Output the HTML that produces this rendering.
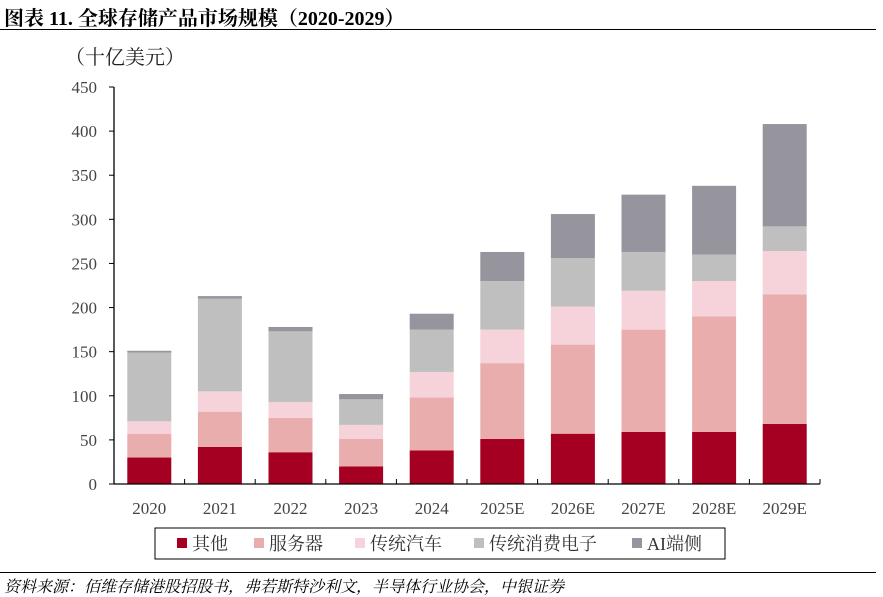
<!DOCTYPE html>
<html><head><meta charset="utf-8">
<style>
body{margin:0;background:#fff;width:883px;height:595px;overflow:hidden;position:relative;font-family:"Liberation Serif","Noto Serif CJK SC",serif;}
.title{position:absolute;left:4px;top:2px;font-size:20px;font-weight:bold;color:#000;font-family:"Liberation Serif","Noto Serif CJK SC",serif;white-space:nowrap;}
.rule{position:absolute;left:0;width:876px;height:1px;background:#000;}
.src{position:absolute;left:4px;top:574px;font-size:16px;font-style:italic;color:#000;font-family:"Liberation Serif","Noto Serif CJK SC",serif;white-space:nowrap;}
</style></head><body>
<div class="title">图表 11. 全球存储产品市场规模（2020-2029）</div>
<div class="rule" style="top:29px"></div>
<svg id="chart" width="883" height="595" style="position:absolute;left:0;top:0"></svg>
<div class="rule" style="top:572px"></div>
<div class="src">资料来源：佰维存储港股招股书，弗若斯特沙利文，半导体行业协会，中银证券</div>
<script>
const categories=["2020","2021","2022","2023","2024","2025E","2026E","2027E","2028E","2029E"];
const seriesNames=["其他","服务器","传统汽车","传统消费电子","AI端侧"];
const other=[30,42,36,20,38,51,57,59,59,68];
const server=[27,40,39,31,60,86,101,116,131,147];
const auto=[14,23,18,16,29,38,43,44,40,49];
const consumer=[78,105,80,29,48,55,55,44,30,28];
const aiEdge=[2,3,5,6,18,33,50,65,78,116];
const yTicks=[0,50,100,150,200,250,300,350,400,450];
const colors=["#a50021","#e8adac","#f6d3da","#bfbfbf","#96959e"];
const series=[other,server,auto,consumer,aiEdge];
const NS="http://www.w3.org/2000/svg";
const svg=document.getElementById('chart');
const x0=114,x1=820,y0=484,yTop=87,yMax=450;
const band=(x1-x0)/categories.length,barW=44;
const yS=v=>y0-(v/yMax)*(y0-yTop);
const xC=i=>x0+band*(i+0.5);
function mk(t,a){const e=document.createElementNS(NS,t);for(const k in a)e.setAttribute(k,a[k]);svg.appendChild(e);return e;}
let u=mk('text',{x:65,y:64,'font-size':20,fill:'#222','font-family':'"Liberation Serif","Noto Serif CJK SC",serif'});u.textContent='（十亿美元）';


yTicks.forEach(t=>{const y=yS(t);
 const l=mk('line',{x1:x0-5,x2:x0,y1:y,y2:y,stroke:'#000','stroke-width':1});
 
 
 const tx=mk('text',{x:97,y:y+6,'text-anchor':'end','font-size':17,fill:'#444'});tx.textContent=t;
 
 
});
categories.forEach((c,i)=>{let base=0;
 series.forEach((s,k)=>{const v=s[i];
  const r=mk('rect',{x:xC(i)-barW/2,y:yS(base+v),width:barW,height:yS(base)-yS(base+v),fill:colors[k]});
  
  
  base+=v;});
 const tk=mk('line',{x1:x0+band*(i+1),x2:x0+band*(i+1),y1:y0,y2:y0-5,stroke:'#000'});
 
 
 const tx=mk('text',{x:xC(i),y:514,'text-anchor':'middle','font-size':17,fill:'#444'});tx.textContent=c;
 
 
});
const ya=mk('line',{x1:x0,x2:x0,y1:yTop,y2:y0,stroke:'#000','stroke-width':1.3});


const xa=mk('line',{x1:x0,x2:x1,y1:y0,y2:y0,stroke:'#000','stroke-width':1.3});


const lb=mk('rect',{x:155,y:528,width:570,height:31,fill:'#fff',stroke:'#000','stroke-width':1});


const lx=[177,254,355,474,632];
seriesNames.forEach((n,k)=>{
 const r=mk('rect',{x:lx[k],y:538,width:10,height:10,fill:colors[k]});
 
 
 const t=mk('text',{x:lx[k]+15,y:550,'font-size':18,fill:'#333','font-family':'"Liberation Serif","Noto Serif CJK SC",serif'});t.textContent=n;
 
 
});
</script>
</body></html>
